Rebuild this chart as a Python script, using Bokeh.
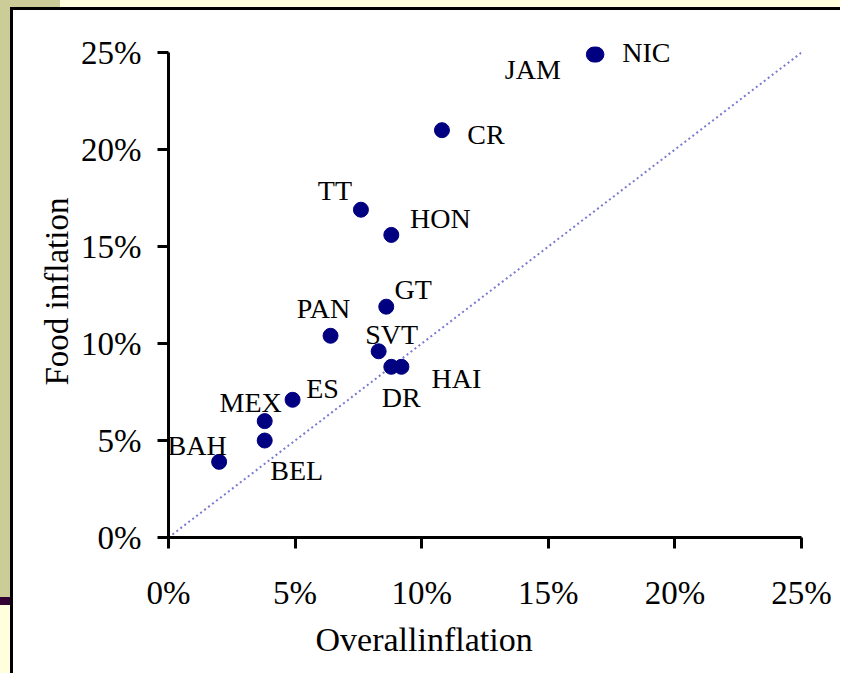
from bokeh.plotting import figure
from bokeh.models import ColumnDataSource, LabelSet, Title, FixedTicker, PrintfTickFormatter
from bokeh.embed import file_html
from bokeh.resources import INLINE

# data (percent)
countries = ["NIC", "JAM", "CR", "TT", "HON", "GT", "PAN", "SVT", "DR", "HAI", "ES", "MEX", "BEL", "BAH"]
overall = [16.9, 16.8, 10.8, 7.6, 8.8, 8.6, 6.4, 8.3, 8.8, 9.2, 4.9, 3.8, 3.8, 2.0]
food = [24.9, 24.9, 21.0, 16.9, 15.6, 11.9, 10.4, 9.6, 8.8, 8.8, 7.1, 6.0, 5.0, 3.9]
ticks = [0, 5, 10, 15, 20, 25]
diag = [0, 25]

# label placement (pixels, relative to point)
dx = [50, -61, 44, -26, 49, 27, -7, 13, 10, 55, 30, -14, 32, -22]
dy = [2, -15, -4, 19, 16, 17, 27, 17, -31, -12, 11, 19, -30, 16]

src = ColumnDataSource(dict(x=overall, y=food, name=countries, dx=dx, dy=dy))

bg = ("linear-gradient(to right, #cccc99 60px, #ffffdd 60px) 0 0 / 100% 7px no-repeat, "
      "linear-gradient(black, black) 10px 7px / 100% 3px no-repeat, "
      "linear-gradient(black, black) 10px 7px / 3px 100% no-repeat, "
      "linear-gradient(to bottom, #cccc99 597px, #330033 597px, #330033 605px, #ffffdd 605px) 0 0 / 10px 100% no-repeat, "
      "white")

p = figure(width=840, height=673, x_range=(0, 25), y_range=(0, 26.5),
           output_backend="svg", toolbar_location=None,
           min_border_left=168, min_border_right=39, min_border_top=23, min_border_bottom=136)
p.outline_line_color = None
p.grid.visible = False
p.background_fill_color = None
p.border_fill_color = None
p.styles = {"background": bg}

font = "Liberation Serif"
for ax in (p.xaxis[0], p.yaxis[0]):
    ax.ticker = FixedTicker(ticks=ticks)
    ax.formatter = PrintfTickFormatter(format="%d%%")
    ax.axis_line_width = 3
    ax.axis_line_color = "black"
    ax.major_tick_line_width = 3
    ax.major_tick_line_color = "black"
    ax.major_tick_in = 0
    ax.major_tick_out = 11
    ax.minor_tick_line_color = None
    ax.major_label_text_font = font
    ax.major_label_text_font_size = "33px"
    ax.major_label_text_color = "black"
p.yaxis.bounds = (0, 25)
p.xaxis.major_label_standoff = 26
p.yaxis.major_label_standoff = 16

p.line(diag, diag, line_color="#7a7ad0", line_width=2, line_dash="2 3")
p.scatter("x", "y", source=src, size=15, marker="circle", fill_color="#000080", line_color="#000080")

labels = LabelSet(x="x", y="y", text="name", x_offset="dx", y_offset="dy", source=src,
                  text_font=font, text_font_size="28px", text_color="black",
                  text_align="center", text_baseline="middle")
p.add_layout(labels)

p.add_layout(Title(text="Overallinflation", align="left", offset=147, text_font=font,
                   text_font_size="34px", text_font_style="normal", text_color="black", standoff=11), "below")
p.add_layout(Title(text="Food inflation", align="left", offset=152, text_font=font,
                   text_font_size="33px", text_font_style="normal", text_color="black", standoff=8), "left")

open("out.html", "w").write(file_html(p, INLINE))
